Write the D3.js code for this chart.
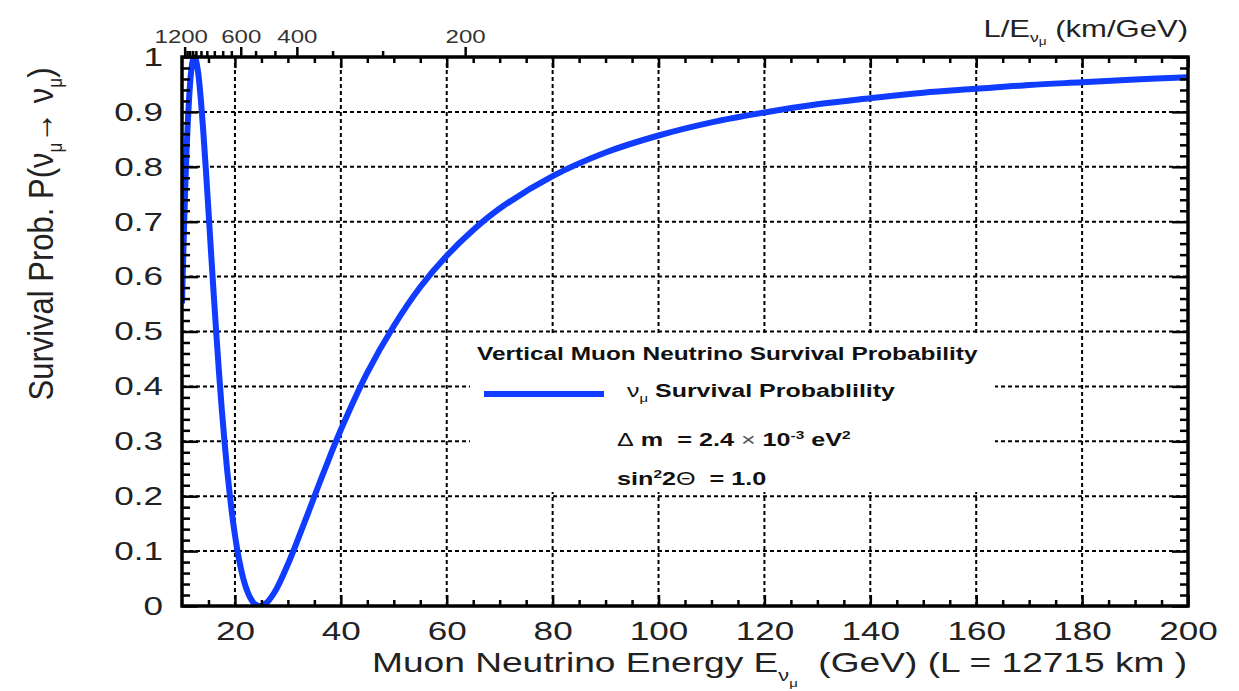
<!DOCTYPE html>
<html>
<head>
<meta charset="utf-8">
<script src="https://cdn.jsdelivr.net/npm/d3@7"></script>
<style>
body { margin: 0; background: #fff; }
text { font-family: "Liberation Sans", Arial, sans-serif; }
</style>
</head>
<body>
<svg id="chart" width="1239" height="691"></svg>
<script>
// values
var energy = [10, 10.25, 10.5, 10.75, 11, 11.5, 11.75, 12, 12.25, 12.5, 13, 13.5, 14, 14.5, 15, 15.5, 16, 16.5,
	17, 17.5, 18, 18.5, 19, 19.5, 20, 20.5, 21, 21.5, 22, 22.5, 23, 23.5, 24, 24.5, 25, 25.5, 26, 27, 28,
	30, 32, 34, 36, 38, 40, 45, 50, 55, 60, 65, 70, 80, 90, 100, 110, 120, 130, 140, 150, 160, 170, 180, 190, 200];
var survival = [0.551, 0.643, 0.727, 0.800, 0.861, 0.948, 0.976, 0.992, 0.999, 0.998, 0.975, 0.929, 0.867, 0.796, 0.720, 0.642, 0.566, 0.493,
	0.424, 0.360, 0.303, 0.250, 0.205, 0.164, 0.129, 0.099, 0.074, 0.053, 0.036, 0.023, 0.013, 0.006, 0.002, 0.000, 0.000, 0.003, 0.006, 0.018, 0.034,
	0.076, 0.124, 0.174, 0.225, 0.274, 0.321, 0.425, 0.510, 0.581, 0.638, 0.685, 0.724, 0.783, 0.826, 0.857, 0.881, 0.899, 0.914, 0.925, 0.935, 0.942, 0.949, 0.954, 0.959, 0.963];

var xTicks = [20, 40, 60, 80, 100, 120, 140, 160, 180, 200];
var yTicks = [0, 0.1, 0.2, 0.3, 0.4, 0.5, 0.6, 0.7, 0.8, 0.9, 1];
var leLabels = [1200, 600, 400, 200];
var leMinor = [1150, 1100, 1050, 1000, 930, 860, 785, 715, 655, 530, 460, 330, 265];
var baseline_km = 12715;

var svg = d3.select("#chart");
var pLeft = 182, pRight = 1188, pTop = 57, pBottom = 606;
var sx = 1.35; // the text in the picture is drawn wide

var x = d3.scaleLinear().domain([10, 200]).range([pLeft, pRight]);
var y = d3.scaleLinear().domain([0, 1]).range([pBottom, pTop]);

var xMinor = d3.range(15, 200, 5).filter(function(d) { return d % 20 != 0; });
var yMinor = d3.range(1, 50).map(function(d) { return d * 0.02; }).filter(function(d) { return Math.abs(d * 10 - Math.round(d * 10)) > 0.001; });

// grid
var grid = svg.append("g")
	.attr("stroke", "#000")
	.attr("stroke-width", 2)
	.attr("stroke-dasharray", "4,3");
grid.selectAll(".vg")
	.data(xTicks.slice(0, -1))
	.enter()
	.append("line")
	.attr("class", "vg")
	.attr("x1", function(d) { return x(d); })
	.attr("x2", function(d) { return x(d); })
	.attr("y1", y(0))
	.attr("y2", y(1));
grid.selectAll(".hg")
	.data(yTicks.slice(1, -1))
	.enter()
	.append("line")
	.attr("class", "hg")
	.attr("x1", x(10))
	.attr("x2", x(200))
	.attr("y1", function(d) { return y(d); })
	.attr("y2", function(d) { return y(d); });

// legend box hides the grid
svg.append("rect")
	.attr("x", 470)
	.attr("y", 336)
	.attr("width", 525)
	.attr("height", 156)
	.style("fill", "#fff");

// curve
svg.append("clipPath")
	.attr("id", "clip")
	.append("rect")
	.attr("x", pLeft)
	.attr("y", pTop - 3)
	.attr("width", pRight - pLeft)
	.attr("height", pBottom - pTop + 3);

var line = d3.line()
	.x(function(d, i) { return x(energy[i]); })
	.y(function(d) { return y(d); })
	.curve(d3.curveCatmullRom);

svg.append("path")
	.datum(survival)
	.attr("clip-path", "url(#clip)")
	.attr("d", line)
	.style("fill", "none")
	.style("stroke", "#0f3cff")
	.style("stroke-width", 6);

// axes
function styleAxis(g) {
	g.select(".domain").remove();
	g.selectAll("line").attr("stroke", "#000").attr("stroke-width", 2.5);
	g.selectAll("text")
		.style("font-size", "26px")
		.style("font-family", "'Liberation Sans', Arial, sans-serif")
		.style("fill", "#222");
}

svg.append("g")
	.attr("transform", "translate(0," + pBottom + ")")
	.call(d3.axisBottom(x).tickValues(xTicks).tickSize(-11).tickPadding(16).tickFormat(d3.format("d")))
	.call(styleAxis)
	.selectAll("text")
	.attr("transform", "scale(" + sx + ",1)");
svg.append("g")
	.attr("transform", "translate(0," + pBottom + ")")
	.call(d3.axisBottom(x).tickValues(xMinor).tickSize(-6).tickFormat(""))
	.call(styleAxis);
svg.append("g")
	.attr("transform", "translate(0," + pTop + ")")
	.call(d3.axisTop(x).tickValues(xTicks).tickSize(-11).tickFormat(""))
	.call(styleAxis);
svg.append("g")
	.attr("transform", "translate(0," + pTop + ")")
	.call(d3.axisTop(x).tickValues(xMinor).tickSize(-6).tickFormat(""))
	.call(styleAxis);

svg.append("g")
	.attr("transform", "translate(" + pLeft + ",0)")
	.call(d3.axisLeft(y).tickValues(yTicks).tickSize(-16).tickFormat(d3.format("~g")))
	.call(styleAxis)
	.selectAll("text")
	.attr("x", -19 / sx)
	.attr("transform", "scale(" + sx + ",1)");
svg.append("g")
	.attr("transform", "translate(" + pLeft + ",0)")
	.call(d3.axisLeft(y).tickValues(yMinor).tickSize(-8).tickFormat(""))
	.call(styleAxis);
svg.append("g")
	.attr("transform", "translate(" + pRight + ",0)")
	.call(d3.axisRight(y).tickValues(yTicks).tickSize(-16).tickFormat(""))
	.call(styleAxis);
svg.append("g")
	.attr("transform", "translate(" + pRight + ",0)")
	.call(d3.axisRight(y).tickValues(yMinor).tickSize(-8).tickFormat(""))
	.call(styleAxis);

// top L/E axis
var topAxis = svg.append("g");
topAxis.selectAll(".lmaj")
	.data(leLabels)
	.enter()
	.append("line")
	.attr("x1", function(d) { return x(baseline_km / d); })
	.attr("x2", function(d) { return x(baseline_km / d); })
	.attr("y1", pTop)
	.attr("y2", pTop - 10)
	.attr("stroke", "#000")
	.attr("stroke-width", 2.5);
topAxis.selectAll(".lmin")
	.data(leMinor)
	.enter()
	.append("line")
	.attr("x1", function(d) { return x(baseline_km / d); })
	.attr("x2", function(d) { return x(baseline_km / d); })
	.attr("y1", pTop)
	.attr("y2", pTop - 6)
	.attr("stroke", "#000")
	.attr("stroke-width", 2.5);
topAxis.selectAll("text")
	.data(leLabels)
	.enter()
	.append("text")
	.attr("transform", function(d) { return "translate(" + x(baseline_km / d) + "," + (pTop - 14) + ") scale(1.3,1)"; })
	.attr("text-anchor", "middle")
	.attr("dx", function(d) { return d == 1200 ? -3 : 0; })
	.style("font-size", "18.5px")
	.style("fill", "#333")
	.text(function(d) { return d; });

// frame
svg.append("rect")
	.attr("x", pLeft)
	.attr("y", pTop)
	.attr("width", pRight - pLeft)
	.attr("height", pBottom - pTop)
	.style("fill", "none")
	.style("stroke", "#000")
	.style("stroke-width", 3.5);

// titles
var tt = svg.append("text")
	.attr("transform", "translate(" + pRight + ",37) scale(" + sx + ",1)")
	.attr("text-anchor", "end")
	.style("font-size", "23px")
	.style("fill", "#222");
tt.append("tspan").text("L/E");
tt.append("tspan").attr("dy", 5).style("font-size", "13px").text("ν");
tt.append("tspan").attr("dy", 3).style("font-size", "10px").text("μ");
tt.append("tspan").attr("dy", -8).text(" (km/GeV)");

var xt = svg.append("text")
	.attr("transform", "translate(372,672) scale(1.35,1)")
	.style("font-size", "27.5px")
	.style("fill", "#222");
xt.append("tspan").text("Muon Neutrino Energy E");
xt.append("tspan").attr("dy", 9).style("font-size", "16px").text("ν");
xt.append("tspan").attr("dy", 6).style("font-size", "11px").text("μ");
xt.append("tspan").attr("dy", -15).text("\u00a0 (GeV) (L = 12715 km )");

var yt = svg.append("text")
	.attr("transform", "translate(53,234) rotate(-90) scale(1,1.15)")
	.attr("text-anchor", "middle")
	.style("font-size", "31px")
	.style("fill", "#222");
yt.append("tspan").text("Survival Prob. P(ν");
yt.append("tspan").attr("dy", 8).style("font-size", "17px").text("μ");
yt.append("tspan").attr("dy", -8).text("→ ν");
yt.append("tspan").attr("dy", 8).style("font-size", "17px").text("μ");
yt.append("tspan").attr("dy", -8).text(")");

// legend
var lg = svg.append("g").style("fill", "#111").style("font-weight", "bold");
lg.append("text")
	.attr("transform", "translate(477,360) scale(1.32,1)")
	.style("font-size", "18.5px")
	.text("Vertical Muon Neutrino Survival Probability");
lg.append("line")
	.attr("x1", 484)
	.attr("x2", 604)
	.attr("y1", 394)
	.attr("y2", 394)
	.style("stroke", "#0f3cff")
	.style("stroke-width", 6);
var l1 = lg.append("text")
	.attr("transform", "translate(627,397) scale(1.35,1)")
	.style("font-size", "18.5px");
l1.append("tspan").style("font-weight", "normal").text("ν");
l1.append("tspan").attr("dy", 5).style("font-size", "11px").style("font-weight", "normal").text("μ");
l1.append("tspan").attr("dy", -5).text(" Survival Probablility");

var l2 = lg.append("text")
	.attr("transform", "translate(617,446) scale(1.4,1)")
	.style("font-size", "18px");
l2.append("tspan").style("font-weight", "normal").text("Δ");
l2.append("tspan").text(" m\u00a0\u00a0= 2.4 ");
l2.append("tspan").style("font-weight", "normal").style("fill", "#555").text("×");
l2.append("tspan").text(" 10");
l2.append("tspan").attr("dy", -7).style("font-size", "11px").text("-3");
l2.append("tspan").attr("dy", 7).text(" eV");
l2.append("tspan").attr("dy", -7).style("font-size", "11px").text("2");

var l3 = lg.append("text")
	.attr("transform", "translate(617,485) scale(1.4,1)")
	.style("font-size", "18px");
l3.append("tspan").text("sin");
l3.append("tspan").attr("dy", -7).style("font-size", "11px").text("2");
l3.append("tspan").attr("dy", 7).text("2");
l3.append("tspan").style("font-weight", "normal").text("Θ");
l3.append("tspan").text("\u00a0\u00a0= 1.0");
</script>
</body>
</html>
